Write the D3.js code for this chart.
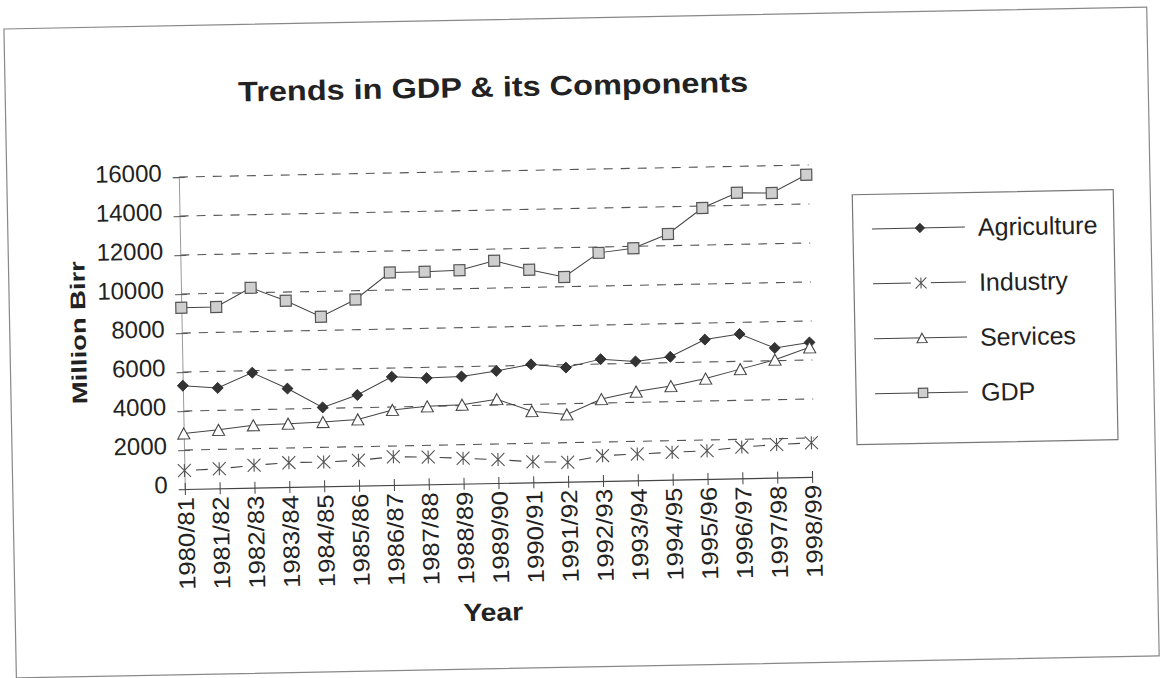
<!DOCTYPE html>
<html>
<head>
<meta charset="utf-8">
<script src="https://cdn.jsdelivr.net/npm/d3@7"></script>
<style>
  html, body { margin: 0; padding: 0; background: #fff; }
  svg { display: block; }
  text { font-family: "Liberation Sans", Arial, sans-serif; fill: #222; }
</style>
</head>
<body>
<svg id="chart" width="1161" height="678"></svg>
<script>
// ---- data ----
const years = ["1980/81","1981/82","1982/83","1983/84","1984/85","1985/86","1986/87","1987/88","1988/89","1989/90",
               "1990/91","1991/92","1992/93","1993/94","1994/95","1995/96","1996/97","1997/98","1998/99"];
const agriculture = [5300,5150,5900,5050,4050,4650,5550,5450,5500,5750,6050,5850,6250,6100,6300,7150,7400,6650,6900];
const industry    = [950,1000,1150,1250,1250,1300,1450,1400,1300,1200,1050,1000,1300,1350,1400,1450,1600,1700,1750];
const services    = [2850,3000,3200,3250,3300,3400,3850,4000,4050,4300,3650,3450,4200,4550,4800,5150,5600,6050,6650];
const gdp         = [9300,9300,10250,9550,8700,9550,10900,10900,10950,11400,10900,10500,11700,11900,12600,13900,14650,14600,15500];
const yTicks = [0,2000,4000,6000,8000,10000,12000,14000,16000];
const seriesNames = ["Agriculture","Industry","Services","GDP"];
const titleText = "Trends in GDP & its Components";
const xTitle = "Year";
const yTitle = "Million Birr";

const series = [
  {name: seriesNames[0], values: agriculture, marker: "diamond"},
  {name: seriesNames[1], values: industry, marker: "star"},
  {name: seriesNames[2], values: services, marker: "triangle"},
  {name: seriesNames[3], values: gdp, marker: "square"}
];

const svg = d3.select("#chart");
const g = svg.append("g").attr("transform", "rotate(-1.1,580,340)");

const x = d3.scalePoint().domain(years).range([182, 809.4]).padding(0);
const y = d3.scaleLinear().domain([0, 16000]).range([481.4, 169.4]);

// outer frame
g.append("rect").attr("x", 10).attr("y", 18).attr("width", 1143).attr("height", 649)
  .attr("fill", "none").attr("stroke", "#888").attr("stroke-width", 1.2);

// title
g.append("text").attr("x", 498).attr("y", 95).attr("text-anchor", "middle")
  .attr("font-size", 28).attr("font-weight", "bold")
  .attr("textLength", 510).attr("lengthAdjust", "spacingAndGlyphs")
  .text(titleText);

// gridlines
g.append("g").selectAll("line").data(yTicks.filter(d => d > 0)).join("line")
  .attr("x1", x(years[0])).attr("x2", 812)
  .attr("y1", d => y(d)).attr("y2", d => y(d))
  .attr("stroke", "#555").attr("stroke-width", 1.1).attr("stroke-dasharray", "9,8");

// y axis
const yAxis = g.append("g").attr("transform", `translate(${x(years[0])},0)`)
  .call(d3.axisLeft(y).tickValues(yTicks).tickSize(6).tickPadding(11).tickFormat(d3.format("d")));
yAxis.select(".domain").attr("stroke", "#999").attr("stroke-width", 1);
yAxis.selectAll(".tick line").attr("x1", 6).attr("stroke", "#555");
yAxis.selectAll(".tick text").attr("font-size", 24).attr("dy", 3.5).attr("fill", "#222")
  .style("font-family", "'Liberation Sans', Arial, sans-serif");

// x axis
const xAxis = g.append("g").attr("transform", `translate(0,${y(0)})`)
  .call(d3.axisBottom(x).tickSize(6).tickSizeOuter(0));
xAxis.select(".domain").attr("stroke", "#444").attr("stroke-width", 1.2);
xAxis.selectAll(".tick line").attr("y1", -6).attr("stroke", "#444");
xAxis.selectAll(".tick text")
  .attr("transform", "rotate(-90)")
  .attr("x", -8).attr("y", 0).attr("dy", "0.36em")
  .attr("text-anchor", "end").attr("font-size", 23).attr("fill", "#222")
  .attr("textLength", 93).attr("lengthAdjust", "spacingAndGlyphs")
  .style("font-family", "'Liberation Sans', Arial, sans-serif");

// axis titles
g.append("text").attr("transform", "translate(86,323) rotate(-90)")
  .attr("text-anchor", "middle").attr("font-size", 21).attr("font-weight", "bold")
  .attr("textLength", 143).attr("lengthAdjust", "spacingAndGlyphs").text(yTitle);
g.append("text").attr("x", 488).attr("y", 619).attr("text-anchor", "middle")
  .attr("font-size", 25).attr("font-weight", "bold")
  .attr("textLength", 60).attr("lengthAdjust", "spacingAndGlyphs").text(xTitle);

// marker drawing
function drawMarker(sel, type, k) {
  k = k || 1;
  if (type === "diamond") {
    const s = 5.5 * k;
    sel.append("path").attr("d", `M0,${-s}L${s},0L0,${s}L${-s},0Z`)
      .attr("fill", "#333").attr("stroke", "#222").attr("stroke-width", 0.8);
  } else if (type === "square") {
    const s = 5.5 * k;
    sel.append("rect").attr("x", -s).attr("y", -s).attr("width", 2 * s).attr("height", 2 * s)
      .attr("fill", "#cfcfcf").attr("stroke", "#555").attr("stroke-width", 1.2);
  } else if (type === "triangle") {
    const w = 6 * k, h = 5.5 * k;
    sel.append("path").attr("d", `M0,${-h}L${w},${h}L${-w},${h}Z`)
      .attr("fill", "#fff").attr("stroke", "#444").attr("stroke-width", 1.1);
  } else if (type === "star") {
    const s = 6.5 * k;
    sel.append("path").attr("d", `M${-s},${-s}L${s},${s}M${-s},${s}L${s},${-s}M0,${-s}L0,${s}`)
      .attr("fill", "none").attr("stroke", "#555").attr("stroke-width", 1.1);
  }
}

const line = d3.line().x((d, i) => x(years[i])).y(d => y(d));

series.forEach(s => {
  if (s.marker === "star") {
    // segments with small gaps around each star marker
    const pairs = d3.pairs(s.values.map((v, i) => [x(years[i]), y(v)]));
    g.append("g").selectAll("line").data(pairs).join("line")
      .each(function([a, b]) {
        const dx = b[0] - a[0], dy = b[1] - a[1], L = Math.hypot(dx, dy), t = 11.5 / L;
        d3.select(this)
          .attr("x1", a[0] + dx * t).attr("y1", a[1] + dy * t)
          .attr("x2", b[0] - dx * t).attr("y2", b[1] - dy * t);
      })
      .attr("stroke", "#444").attr("stroke-width", 1.1);
  } else {
    g.append("path").datum(s.values).attr("d", line)
      .attr("fill", "none").attr("stroke", "#444").attr("stroke-width", 1);
  }
});
series.forEach(s => {
  g.append("g").selectAll("g").data(s.values).join("g")
    .attr("transform", (d, i) => `translate(${x(years[i])},${y(d)})`)
    .each(function() { drawMarker(d3.select(this), s.marker); });
});

// legend
const legend = g.append("g");
legend.append("rect").attr("x", 855).attr("y", 200).attr("width", 261).attr("height", 250)
  .attr("fill", "#fff").attr("stroke", "#777").attr("stroke-width", 1.2);
const legendY = d3.scalePoint().domain(seriesNames).range([234.5, 399.5]);
series.forEach(s => {
  const ly = legendY(s.name);
  legend.append("line").attr("x1", 874).attr("x2", 967).attr("y1", ly).attr("y2", ly)
    .attr("stroke", "#444").attr("stroke-width", 1);
  const mg = legend.append("g").attr("transform", `translate(922,${ly})`);
  if (s.marker === "star") {
    mg.insert("rect").attr("x", -10).attr("y", -8).attr("width", 20).attr("height", 16).attr("fill", "#fff");
  }
  drawMarker(mg, s.marker, 0.85);
  legend.append("text").attr("x", 980).attr("y", ly).attr("dy", "0.36em")
    .attr("font-size", 25).text(s.name);
});
</script>
</body>
</html>
